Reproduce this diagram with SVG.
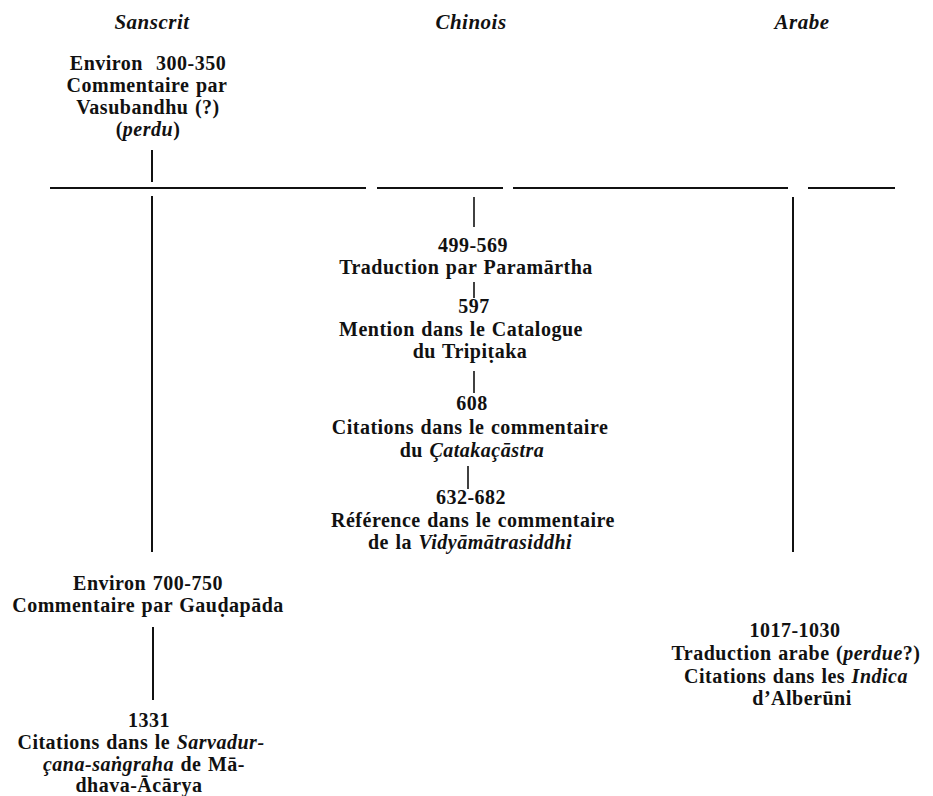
<svg xmlns="http://www.w3.org/2000/svg" width="933" height="796" viewBox="0 0 933 796">
<style>
  text { font-family: "Liberation Serif", "DejaVu Serif", serif; font-weight: bold; font-size: 20px; letter-spacing: 0.5px; word-spacing: 1px; fill: #111; text-anchor: middle; }
  .hdr { font-style: italic; font-size: 21px; }
  .it { font-style: italic; }
  .ln { stroke: #111; stroke-width: 2; fill: none; }
  .sm { stroke: #111; stroke-width: 1.6; fill: none; }
</style>
<rect width="933" height="796" fill="#fff"/>

<g id="headers">
  <text class="hdr" x="152" y="29">Sanscrit</text>
  <text class="hdr" x="471" y="29">Chinois</text>
  <text class="hdr" x="802" y="29">Arabe</text>
</g>

<g id="connectors">
  <line class="ln" x1="152" y1="150" x2="152" y2="182"/>
  <line class="ln" x1="50" y1="188" x2="366" y2="188"/>
  <line class="ln" x1="377" y1="188" x2="503" y2="188"/>
  <line class="ln" x1="513" y1="188" x2="788" y2="188"/>
  <line class="ln" x1="808" y1="188" x2="895" y2="188"/>
  <line class="ln" x1="152" y1="196" x2="152" y2="552"/>
  <line class="sm" x1="474" y1="197" x2="474" y2="227"/>
  <line class="ln" x1="793" y1="197" x2="793" y2="552"/>
  <line class="sm" x1="474" y1="282" x2="474" y2="298"/>
  <line class="sm" x1="474" y1="371" x2="474" y2="393"/>
  <line class="sm" x1="468" y1="466" x2="468" y2="489"/>
  <line class="ln" x1="153" y1="627" x2="153" y2="700"/>
</g>

<g id="vasubandhu">
  <text x="148" y="70">Environ&#160; 300-350</text>
  <text x="147" y="92">Commentaire par</text>
  <text x="148" y="114">Vasubandhu (?)</text>
  <text x="148" y="136">(<tspan class="it">perdu</tspan>)</text>
</g>

<g id="paramartha">
  <text x="473" y="252">499-569</text>
  <text x="466" y="274">Traduction par Paramārtha</text>
</g>

<g id="catalogue">
  <text x="474" y="313">597</text>
  <text x="461" y="336">Mention dans le Catalogue</text>
  <text x="470" y="358">du Tripiṭaka</text>
</g>

<g id="catakacastra">
  <text x="472" y="410">608</text>
  <text x="470" y="434">Citations dans le commentaire</text>
  <text x="472" y="457">du <tspan class="it">Çatakaçāstra</tspan></text>
</g>

<g id="vidyamatrasiddhi">
  <text x="471" y="504">632-682</text>
  <text x="473" y="527">Référence dans le commentaire</text>
  <text x="470" y="549">de la <tspan class="it">Vidyāmātrasiddhi</tspan></text>
</g>

<g id="gaudapada">
  <text x="148" y="590">Environ 700-750</text>
  <text x="148" y="612">Commentaire par Gauḍapāda</text>
</g>

<g id="madhava">
  <text x="149" y="727">1331</text>
  <text x="141" y="749">Citations dans le <tspan class="it">Sarvadur-</tspan></text>
  <text x="144" y="771"><tspan class="it">çana-saṅgraha</tspan> de Mā-</text>
  <text x="139" y="792">dhava-Ācārya</text>
</g>

<g id="alberuni">
  <text x="795" y="637">1017-1030</text>
  <text x="796" y="660">Traduction arabe (<tspan class="it">perdue</tspan>?)</text>
  <text x="796" y="683">Citations dans les <tspan class="it">Indica</tspan></text>
  <text x="802" y="705">d’Alberūni</text>
</g>
</svg>
